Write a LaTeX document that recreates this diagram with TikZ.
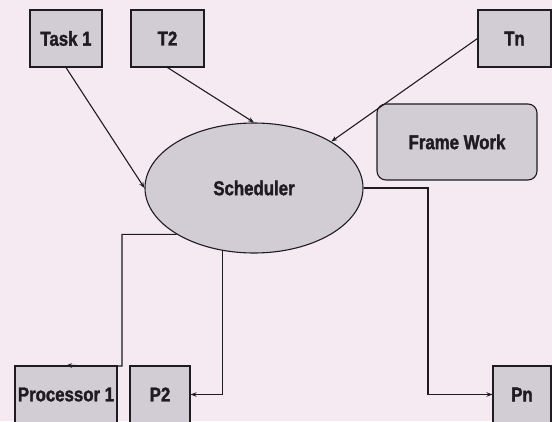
\documentclass[tikz,border=0pt]{standalone}
\usepackage{fontspec}
\setmainfont{Liberation Sans}[FakeStretch=0.84, BoldFeatures={FakeBold=1.6}]
\usetikzlibrary{arrows.meta,shapes.geometric}
\definecolor{bgpink}{RGB}{246,234,242}
\definecolor{boxfill}{RGB}{210,204,212}
\definecolor{linecol}{RGB}{30,28,32}
\definecolor{txtcol}{RGB}{30,28,34}
\tikzset{
  x=1pt,y=-1pt,
  boxnode/.style={draw=linecol, line width=1.1pt, fill=boxfill, minimum height=57pt,
    inner sep=0pt, font=\fontsize{20}{22}\selectfont\bfseries, text=txtcol},
  conn/.style={draw=linecol, line width=1.1pt, -{Stealth[length=6pt,width=4.5pt]}},
}
\begin{document}
\begin{tikzpicture}
\path[use as bounding box, clip] (0,0) rectangle (552,421);
\fill[bgpink] (0,0) rectangle (552,421);
\node[boxnode, minimum width=72pt] (task1) at (66,38.5) {Task 1};
\node[boxnode, minimum width=73pt] (t2) at (167.5,38.5) {T2};
\node[boxnode, minimum width=73pt] (tn) at (514.5,38.5) {Tn};
\node[boxnode, minimum width=160pt, minimum height=76pt, rounded corners=9pt] (fw) at (457,142) {Frame Work};
\node[boxnode, ellipse, minimum width=218pt, minimum height=130pt] (sched) at (254,188) {Scheduler};
\node[boxnode, minimum width=102pt] (proc1) at (66,394.5) {Processor 1};
\node[boxnode, minimum width=60pt] (p2) at (160,394.5) {P2};
\node[boxnode, minimum width=58pt] (pn) at (522,394.5) {Pn};
\coordinate (c1) at (122,366);
\coordinate (c3) at (428,188);
\draw[conn] (task1.south) -- (sched.west);
\draw[conn] (t2.south) -- (sched.north);
\draw[conn] (tn.west) -- (sched.31);
\draw[conn] (sched.211) -| (c1) -- (proc1.north);
\draw[conn] (sched.243) |- (p2.east);
\draw[conn] (sched.east) -- (c3) |- (pn.west);
\end{tikzpicture}
\end{document}
